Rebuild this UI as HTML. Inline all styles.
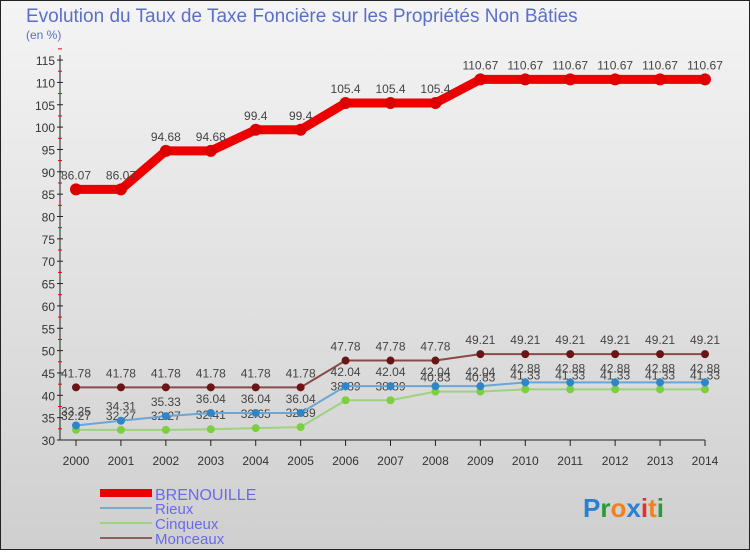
<!DOCTYPE html>
<html><head><meta charset="utf-8"><style>
body{margin:0;width:750px;height:550px;overflow:hidden;font-family:"Liberation Sans",sans-serif}
svg text{font-family:"Liberation Sans",sans-serif}
</style></head><body>
<svg id="chart" width="750" height="550" xmlns="http://www.w3.org/2000/svg">
<defs><linearGradient id="bg" x1="0" y1="0" x2="0" y2="1"><stop offset="0" stop-color="#f4f4f4"/><stop offset="1" stop-color="#cfcfcf"/></linearGradient></defs>
<rect x="0.5" y="0.5" width="749" height="549" fill="url(#bg)" stroke="#222"/>
<text x="26" y="22" font-size="19" fill="#5a6fc8">Evolution du Taux de Taxe Foncière sur les Propriétés Non Bâties</text>
<text x="26" y="39" font-size="12" fill="#5a6fc8">(en %)</text>
<g id="axes"></g><g id="series"></g>
<g>
<line x1="100" y1="493" x2="152" y2="493" stroke="#ee0000" stroke-width="8"/>
<text x="155" y="500" font-size="16" fill="#6a6aee">BRENOUILLE</text>
<line x1="100" y1="508" x2="152" y2="508" stroke="#7fa8c8" stroke-width="2"/>
<text x="155" y="514" font-size="15" fill="#6a6aee">Rieux</text>
<line x1="100" y1="523" x2="152" y2="523" stroke="#9ed27e" stroke-width="2"/>
<text x="155" y="529" font-size="15" fill="#6a6aee">Cinqueux</text>
<line x1="100" y1="538" x2="152" y2="538" stroke="#8a6060" stroke-width="2"/>
<text x="155" y="544" font-size="15" fill="#6a6aee">Monceaux</text>
</g>
<text x="583" y="517" font-size="26" font-weight="bold"><tspan fill="#2a7fd0">P</tspan><tspan fill="#2a9a3a">r</tspan><tspan fill="#f08020">o</tspan><tspan fill="#2a7fd0">x</tspan><tspan fill="#e03030">i</tspan><tspan fill="#f08020">t</tspan><tspan fill="#2a9a3a">i</tspan></text>
</svg>
<script>
const years=[2000,2001,2002,2003,2004,2005,2006,2007,2008,2009,2010,2011,2012,2013,2014];
const brenouille=[86.07,86.07,94.68,94.68,99.4,99.4,105.4,105.4,105.4,110.67,110.67,110.67,110.67,110.67,110.67];
const rieux=[33.25,34.31,35.33,36.04,36.04,36.04,42.04,42.04,42.04,42.04,42.88,42.88,42.88,42.88,42.88];
const cinqueux=[32.27,32.27,32.27,32.41,32.65,32.89,38.89,38.89,40.83,40.83,41.33,41.33,41.33,41.33,41.33];
const monceaux=[41.78,41.78,41.78,41.78,41.78,41.78,47.78,47.78,47.78,49.21,49.21,49.21,49.21,49.21,49.21];
const yTicks=[30,35,40,45,50,55,60,65,70,75,80,85,90,95,100,105,110,115];
const NS="http://www.w3.org/2000/svg";
const xs=i=>76+i*(705-76)/(years.length-1);
const ys=v=>440-(v-30)*4.47;
function mk(t,a,p){const e=document.createElementNS(NS,t);for(const k in a)e.setAttribute(k,a[k]);p.appendChild(e);return e;}
const ax=document.getElementById('axes');
mk('line',{x1:60,y1:ys(115)-5,x2:60,y2:440,stroke:'#222'},ax);
mk('line',{x1:60,y1:440,x2:xs(14),y2:440,stroke:'#222'},ax);
yTicks.forEach(v=>{
 mk('line',{x1:57,y1:ys(v),x2:63,y2:ys(v),stroke:'#222'},ax);
 mk('line',{x1:58,y1:ys(v+2.5),x2:62,y2:ys(v+2.5),stroke:'#e00'},ax);
 const t=mk('text',{x:55,y:ys(v)+5,'text-anchor':'end','font-size':12,fill:'#333'},ax);
 t.textContent=v;
 
 
});
years.forEach((y,i)=>{
 mk('line',{x1:xs(i),y1:440,x2:xs(i),y2:446,stroke:'#222'},ax);
 const t=mk('text',{x:xs(i),y:465,'text-anchor':'middle','font-size':12,fill:'#333'},ax);
 t.textContent=y;
 
 
});
const sg=document.getElementById('series');
function series(name,vals,col,w,r,dot){
 const g=mk('g',{},sg);
 
 
 mk('polyline',{points:vals.map((v,i)=>xs(i)+','+ys(v)).join(' '),fill:'none',stroke:col,'stroke-width':w,'stroke-linejoin':'round'},g);
 vals.forEach((v,i)=>{
  const c=mk('circle',{cx:xs(i),cy:ys(v),r:r,fill:dot},g);
  
  
  const t=mk('text',{x:xs(i),y:ys(v)-10,'text-anchor':'middle','font-size':12,fill:'#444'},g);
  t.textContent=v;
  
  
 });
}
series('monceaux',monceaux,'#8a4a4a',2,4,'#6a1515');
series('cinqueux',cinqueux,'#9ed27e',2,4,'#7ccf3e');
series('rieux',rieux,'#6aa6d6',2,4,'#2e86c8');
series('brenouille',brenouille,'#ee0000',9,6,'#dd0000');
</script>
</body></html>
